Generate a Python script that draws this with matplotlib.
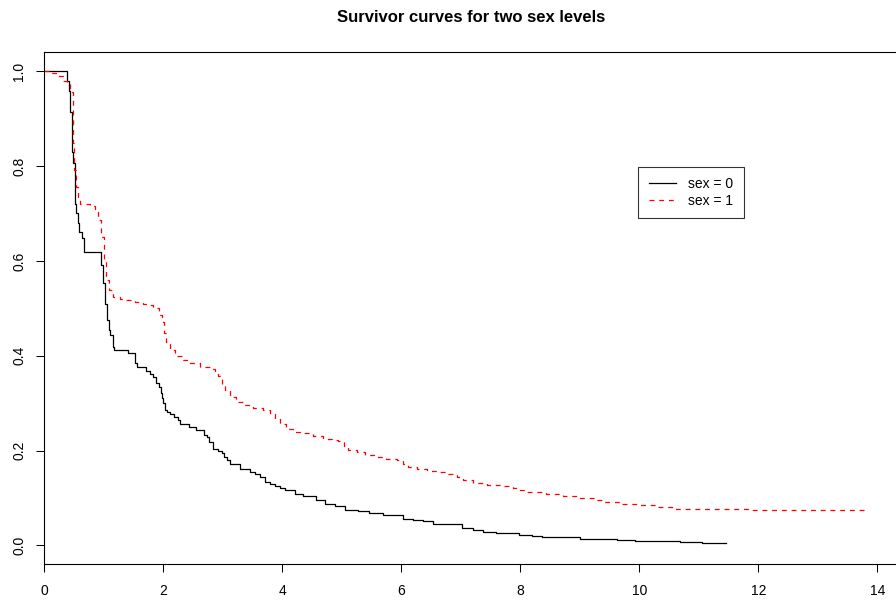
import matplotlib
matplotlib.use("Agg")
import matplotlib.pyplot as plt

plt.rcParams['font.family'] = ['Liberation Sans', 'DejaVu Sans']
plt.rcParams['lines.scale_dashes'] = False

# Kaplan-Meier step curves (time, survival after that time)
t0 = [0, 0.38, 0.41, 0.44, 0.46, 0.47, 0.49, 0.51, 0.52, 0.54, 0.56, 0.58, 0.63, 0.66,
      0.95, 0.98, 0.99, 1.02, 1.05, 1.08, 1.10, 1.16, 1.17, 1.41, 1.52, 1.56, 1.71, 1.78,
      1.83, 1.88, 1.93, 1.96, 1.98, 2.00, 2.03, 2.06, 2.11, 2.18, 2.24, 2.28, 2.44, 2.55,
      2.68, 2.73, 2.77, 2.83, 2.84, 2.92, 2.98, 3.02, 3.07, 3.12, 3.29, 3.46, 3.54, 3.63,
      3.71, 3.79, 3.88, 3.96, 4.05, 4.21, 4.35, 4.57, 4.72, 4.88, 5.05, 5.28, 5.45, 5.70,
      6.03, 6.20, 6.37, 6.53, 6.73, 7.02, 7.21, 7.38, 7.60, 7.97, 8.19, 8.36, 9.00, 9.28,
      9.62, 9.93, 10.68, 11.05, 11.46]
s0 = [1.0, 0.980, 0.958, 0.915, 0.87, 0.83, 0.806, 0.76, 0.72, 0.70, 0.68, 0.661, 0.648, 0.618,
      0.591, 0.56, 0.553, 0.51, 0.475, 0.455, 0.443, 0.419, 0.413, 0.405, 0.384, 0.376, 0.368, 0.362,
      0.355, 0.342, 0.334, 0.321, 0.310, 0.300, 0.285, 0.281, 0.277, 0.271, 0.264, 0.255, 0.250, 0.243,
      0.232, 0.229, 0.218, 0.211, 0.204, 0.199, 0.194, 0.186, 0.181, 0.171, 0.162, 0.155, 0.150, 0.144,
      0.134, 0.130, 0.125, 0.120, 0.116, 0.108, 0.104, 0.096, 0.088, 0.083, 0.075, 0.072, 0.069, 0.065,
      0.056, 0.053, 0.051, 0.046, 0.044, 0.037, 0.033, 0.028, 0.026, 0.0226, 0.0197, 0.0176, 0.014, 0.013,
      0.011, 0.0084, 0.0063, 0.0042, 0.0042]

t1 = [0, 0.12, 0.21, 0.32, 0.38, 0.43, 0.48, 0.49, 0.50, 0.53, 0.57, 0.60, 0.77, 0.85,
      0.91, 0.96, 1.00, 1.04, 1.08, 1.16, 1.27, 1.38, 1.52, 1.66, 1.76, 1.83, 1.92, 1.97,
      2.01, 2.05, 2.11, 2.20, 2.31, 2.45, 2.62, 2.79, 2.87, 2.92, 2.98, 3.04, 3.12, 3.23,
      3.34, 3.51, 3.68, 3.79, 3.88, 3.96, 4.07, 4.18, 4.30, 4.52, 4.69, 4.83, 4.94, 5.03,
      5.11, 5.25, 5.39, 5.56, 5.75, 5.92, 6.03, 6.12, 6.26, 6.43, 6.60, 6.79, 6.93, 7.04,
      7.21, 7.44, 7.71, 7.88, 7.99, 8.11, 8.44, 8.72, 9.00, 9.28, 9.39, 9.68, 10.01, 10.29,
      10.57, 11.86, 13.85]
s1 = [1.0, 0.996, 0.989, 0.980, 0.975, 0.957, 0.911, 0.849, 0.792, 0.756, 0.728, 0.720, 0.716, 0.704,
      0.686, 0.651, 0.602, 0.559, 0.538, 0.524, 0.519, 0.517, 0.513, 0.510, 0.507, 0.500, 0.486, 0.471,
      0.447, 0.429, 0.412, 0.399, 0.391, 0.384, 0.376, 0.371, 0.366, 0.357, 0.341, 0.327, 0.313, 0.303,
      0.296, 0.290, 0.285, 0.278, 0.267, 0.257, 0.246, 0.240, 0.236, 0.230, 0.225, 0.223, 0.220, 0.209,
      0.202, 0.197, 0.191, 0.186, 0.183, 0.179, 0.172, 0.165, 0.162, 0.157, 0.155, 0.151, 0.144, 0.137,
      0.132, 0.128, 0.125, 0.122, 0.116, 0.1125, 0.108, 0.104, 0.100, 0.0965, 0.0914, 0.088, 0.0844, 0.081,
      0.0775, 0.0754, 0.0754]

labels = ["sex = 0", "sex = 1"]
xticks = [0, 2, 4, 6, 8, 10, 12, 14]
yticks = [0.0, 0.2, 0.4, 0.6, 0.8, 1.0]

fig = plt.figure(figsize=(8.96, 6.04), dpi=100)
ax = fig.add_axes([44.3 / 896, 39.7 / 604, 853.8 / 896, 512 / 604])

ax.step(t0, s0, where='post', color='black', lw=0.9, label=labels[0])
ax.step(t1, s1, where='post', color='red', lw=0.9, linestyle=(0, (3.5, 3.5)), label=labels[1])

ax.set_xlim(0, 14.35)
ax.set_ylim(-0.04, 1.04)
ax.set_xticks(xticks)
ax.set_xticklabels([str(x) for x in xticks])
ax.set_yticks(yticks)
ax.set_yticklabels(["%.1f" % y for y in yticks], rotation=90, va='center')
ax.tick_params(direction='out', length=6, width=0.75, labelsize=10)
ax.tick_params(axis='x', pad=8.5)
ax.tick_params(axis='y', pad=7)
for sp in ax.spines.values():
    sp.set_linewidth(0.8)

fig.text(471 / 896, 1 - 18 / 604, "Survivor curves for two sex levels",
         ha='center', va='center', fontsize=12, fontweight='bold')

leg = ax.legend(loc='upper left', bbox_to_anchor=(0.6957, 0.7766), borderaxespad=0,
                fancybox=False, frameon=True, fontsize=10, handlelength=1.95,
                handletextpad=0.9, borderpad=0.75, labelspacing=0.2)
leg.get_frame().set_edgecolor('black')
leg.get_frame().set_linewidth(0.8)

fig.savefig("out.png", dpi=100)
